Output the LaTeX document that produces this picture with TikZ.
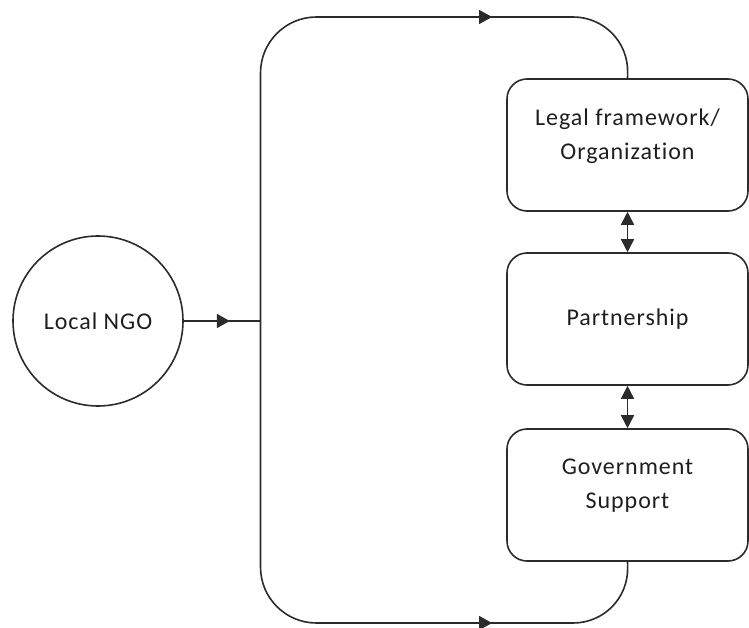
\documentclass[tikz,border=0pt]{standalone}
\usepackage{fontspec}
\setmainfont{Carlito}[LetterSpace=4, Ligatures={NoCommon}]
\usetikzlibrary{arrows.meta,decorations.markings}

\definecolor{ink}{HTML}{2B2B2B}
\definecolor{txt}{HTML}{1E1E1E}

\tikzset{
  line/.style={draw=ink, line width=1.6pt},
  stepbox/.style={line, rectangle, rounded corners=20pt,
    minimum width=241pt, minimum height=132pt, inner sep=0pt,
    align=center, text=txt, font=\fontsize{24pt}{34pt}\selectfont},
  midarrow/.style={postaction={decorate},
    decoration={markings, mark=at position #1 with {\arrow[ink]{Triangle[length=13pt,width=14pt]}}}},
  both/.style={{Triangle[length=13pt,width=13pt]}-{Triangle[length=13pt,width=13pt]}}
}

\begin{document}
\begin{tikzpicture}[x=1pt, y=-1pt]
\useasboundingbox (0,0) rectangle (749,628);

% source actor
\node[line, circle, minimum size=170pt, inner sep=0pt, text=txt,
      font=\fontsize{24pt}{34pt}\selectfont] (ngo) at (98,321) {Local NGO};

% the three linked factors
\node[stepbox] (legal) at (627.5,145) {Legal framework/\\Organization\\[-12pt]};
\node[stepbox] (part)  at (627.5,319) {Partnership};
\node[stepbox] (gov)   at (627.5,495) {Government\\Support\\[-12pt]};

% branching point and route corners
\coordinate (j)  at (260.5,321);
\coordinate (tl) at (260.5,17);
\coordinate (tr) at (629,17);
\coordinate (bl) at (260.5,623);
\coordinate (br) at (629,623);
% straight stretches of the upper and lower routes
\coordinate (ta) at (320,17);
\coordinate (tb) at (573,17);
\coordinate (ba) at (320,623);
\coordinate (bb) at (573,623);

% NGO feeds the branch
\draw[line, midarrow=0.6] (ngo.east) -- (j);

% upper and lower routes
\draw[line, rounded corners=56pt] (j) -- (tl) -- (tr) -- (legal.north);
\draw[line, rounded corners=56pt] (j) -- (bl) -- (br) -- (gov.south);
\draw[line, midarrow=0.68] (ta) -- (tb);
\draw[line, midarrow=0.68] (ba) -- (bb);

% two-way links between factors
\draw[line, both] (legal.south) -- (part.north);
\draw[line, both] (part.south) -- (gov.north);
\end{tikzpicture}
\end{document}
